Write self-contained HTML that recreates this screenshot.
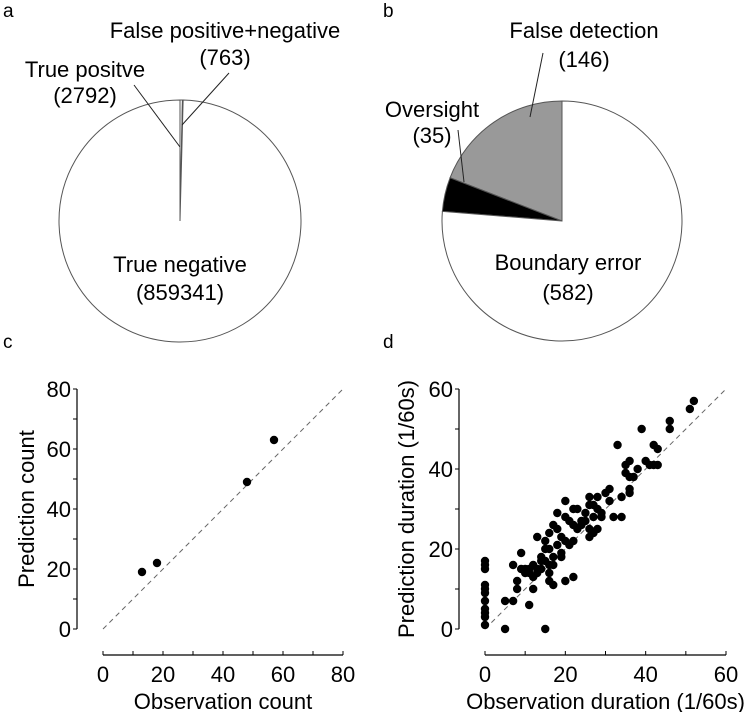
<!DOCTYPE html>
<html><head><meta charset="utf-8"><style>
body{margin:0;background:#fff}
svg{display:block;font-family:"Liberation Sans",Arial,sans-serif}
</style></head><body>
<svg id="fig" width="749" height="712" viewBox="0 0 749 712">
<g id="pa"></g>
<g id="pb"></g>
<g id="pc"></g>
<g id="pd"></g>
<text x="3" y="17" font-size="19">a</text>
<text x="383" y="17" font-size="19">b</text>
<text x="3" y="348" font-size="19">c</text>
<text x="383" y="348" font-size="19">d</text>
</svg>
<script>
const pieALabels=["True positve","False positive+negative","True negative"];
const pieAValues=[2792,763,859341];
const pieBLabels=["False detection","Oversight","Boundary error"];
const pieBValues=[146,35,582];
const cObs=[13,18,48,57];
const cPred=[19,22,49,63];
const cTicks=[0,20,40,60,80];
const dObs=[0,0,0,0,0,0,0,0,0,0,0,5,15,5,7,7,8,8,9,9,10,10,11,11,11,12,12,12,13,13,13,14,14,14,15,15,15,16,16,16,16,16,17,17,17,17,18,18,18,19,19,19,20,20,20,20,21,21,22,22,22,22,23,23,24,24,25,25,26,26,26,26,27,27,27,28,28,28,29,29,30,31,31,32,33,34,34,35,35,36,36,36,36,37,38,39,40,41,42,42,43,43,46,46,51,52];
const dPred=[1,3,4,5,7,9,10,11,15,16,17,0,0,7,7,16,10,12,19,15,14,15,6,14,15,10,13,16,15,23,14,18,17,15,22,17,20,16,14,12,20,24,11,16,26,18,29,21,25,23,19,18,32,28,22,12,27,21,30,13,26,22,25,30,26,27,27,29,33,31,25,23,31,28,24,33,25,30,29,28,34,35,32,28,46,28,33,41,39,42,35,34,38,38,40,50,42,41,46,41,45,41,52,50,55,57];
const dTicks=[0,20,40,60];
const NS="http://www.w3.org/2000/svg";
function mk(p,tag,attrs){const e=document.createElementNS(NS,tag);for(const k in attrs)e.setAttribute(k,attrs[k]);p.appendChild(e);return e;}
function txt(p,x,y,s,size,anchor){const t=mk(p,"text",{x:x,y:y,"font-size":size,"text-anchor":anchor||"middle"});t.textContent=s;return t;}
function slice(p,cx,cy,r,a0,a1,fill){
 const pt=a=>[cx-r*Math.sin(a*Math.PI/180),cy-r*Math.cos(a*Math.PI/180)];
 const [x0,y0]=pt(a0),[x1,y1]=pt(a1);const large=(a1-a0)>180?1:0;
 return mk(p,"path",{d:`M${cx},${cy}L${x0},${y0}A${r},${r} 0 ${large} 0 ${x1},${y1}Z`,fill:fill,stroke:"#555","stroke-width":1});
}
(function(){
 const g=document.getElementById("pa");const cx=180,cy=221,r=121;
 const tot=pieAValues.reduce((a,b)=>a+b,0);
 const fills=["#fff","#999","#fff"];let a=0;
 pieAValues.forEach((v,i)=>{const da=v/tot*360;const s=slice(g,cx,cy,r,-(a+da),-a,fills[i]);
  
  a+=da;});
 mk(g,"line",{x1:134,y1:85,x2:180,y2:147,stroke:"#222","stroke-width":1});
 mk(g,"line",{x1:229,y1:73,x2:182,y2:125,stroke:"#222","stroke-width":1});
 txt(g,225,38,"False positive+negative",22);txt(g,225,65,"(763)",22);
 txt(g,85,77,"True positve",22);txt(g,85,103,"(2792)",22);
 txt(g,180,272,"True negative",22);txt(g,180,300,"(859341)",22);
})();
(function(){
 const g=document.getElementById("pb");const cx=562,cy=221,r=120;
 const tot=pieBValues.reduce((a,b)=>a+b,0);
 const fills=["#999","#000","#fff"];let a=0;
 pieBValues.forEach((v,i)=>{const da=v/tot*360;const s=slice(g,cx,cy,r,a,a+da,fills[i]);
  
  a+=da;});
 mk(g,"line",{x1:543,y1:53,x2:530,y2:117,stroke:"#222","stroke-width":1});
 mk(g,"line",{x1:458,y1:130,x2:464,y2:182,stroke:"#222","stroke-width":1});
 txt(g,584,38,"False detection",22);txt(g,584,67,"(146)",22);
 txt(g,432,117,"Oversight",22);txt(g,432,143,"(35)",22);
 txt(g,568,270,"Boundary error",22);txt(g,568,300,"(582)",22);
})();
function scatter(gid,obs,pred,ticks,max,o,xTitle,yTitle,minorStep){
 const g=document.getElementById(gid);
 const X=v=>o.x0+(v/max)*(o.x1-o.x0),Y=v=>o.y0-(v/max)*(o.y0-o.y1);
 mk(g,"line",{x1:o.ax,y1:o.y0,x2:o.ax,y2:o.y1,stroke:"#000","stroke-width":1.2});
 mk(g,"line",{x1:o.x0,y1:o.axy,x2:o.x1,y2:o.axy,stroke:"#000","stroke-width":1.2});
 for(let v=0;v<=max;v+=minorStep){
  mk(g,"line",{x1:o.ax-4,y1:Y(v),x2:o.ax,y2:Y(v),stroke:"#000","stroke-width":1});
  mk(g,"line",{x1:X(v),y1:o.axy,x2:X(v),y2:o.axy-4,stroke:"#000","stroke-width":1});
 }
 ticks.forEach(v=>{
  const t=txt(g,o.ax-6,Y(v)+8,String(v),22,"end");
  
  const u=txt(g,X(v),o.axy+27,String(v),22);
  
 });
 mk(g,"line",{x1:X(0),y1:Y(0),x2:X(max),y2:Y(max),stroke:"#666","stroke-width":1,"stroke-dasharray":"5,4"});
 obs.forEach((v,i)=>{const c=mk(g,"circle",{cx:X(v),cy:Y(pred[i]),r:4.2,fill:"#000"});
  });
 const xt=txt(g,(o.x0+o.x1)/2,o.axy+54,xTitle,22);
 
 const yt=txt(g,0,0,yTitle,22);yt.setAttribute("transform",`translate(${o.ytx},${(o.y0+o.y1)/2}) rotate(-90)`);
 
}
scatter("pc",cObs,cPred,cTicks,80,{x0:103,x1:343,y0:629,y1:389,ax:77,axy:655,ytx:34},"Observation count","Prediction count",10);
scatter("pd",dObs,dPred,dTicks,60,{x0:485,x1:726,y0:629,y1:389,ax:459,axy:655,ytx:414},"Observation duration (1/60s)","Prediction duration (1/60s)",10);
</script>
</body></html>
